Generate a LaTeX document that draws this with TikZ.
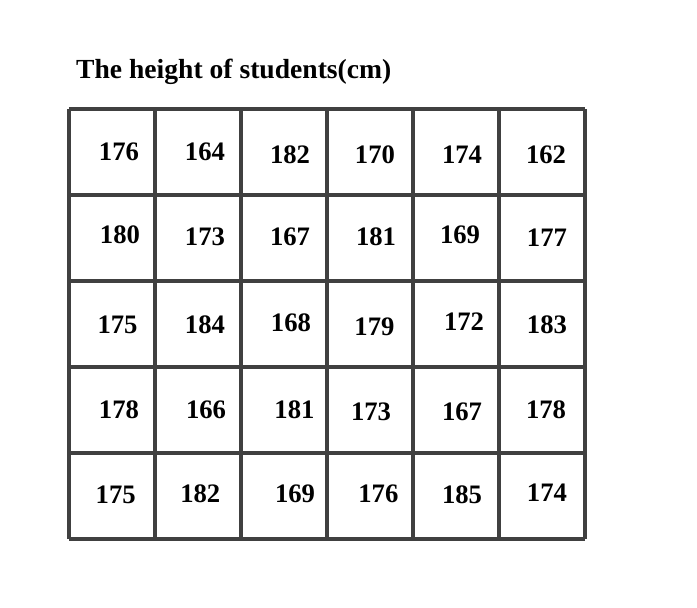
\documentclass[tikz,border=0pt]{standalone}
\usepackage{fontspec}
\setmainfont{Liberation Serif}
\begin{document}
\begin{tikzpicture}[x=64.5pt,y=64.5pt,
 num/.style={inner sep=0pt,font=\fontsize{20}{23}\selectfont\bfseries}]
 \useasboundingbox (-0.8023,-0.7907) rectangle (7.3023,6.2674);
 \draw [step=1,black!75,line width=2.3pt](0,0) grid (6,5);
 \node[anchor=base west,inner sep=0pt,font=\fontsize{20.7}{24}\selectfont\bfseries] (title) at (0.081,5.349) {The height of students(cm)};
 \node[num] (a1) at (0.581,4.500) {176};
 \node[num] (a2) at (1.581,4.500) {164};
 \node[num] (a3) at (2.570,4.465) {182};
 \node[num] (a4) at (3.558,4.465) {170};
 \node[num] (a5) at (4.570,4.465) {174};
 \node[num] (a6) at (5.547,4.465) {162};
 \node[num] (b1) at (0.593,3.535) {180};
 \node[num] (b2) at (1.581,3.512) {173};
 \node[num] (b3) at (2.570,3.512) {167};
 \node[num] (b4) at (3.570,3.512) {181};
 \node[num] (b5) at (4.547,3.535) {169};
 \node[num] (b6) at (5.558,3.500) {177};
 \node[num] (c1) at (0.564,2.488) {175};
 \node[num] (c2) at (1.581,2.488) {184};
 \node[num] (c3) at (2.581,2.512) {168};
 \node[num] (c4) at (3.552,2.471) {179};
 \node[num] (c5) at (4.593,2.523) {172};
 \node[num] (c6) at (5.558,2.488) {183};
 \node[num] (d1) at (0.581,1.500) {178};
 \node[num] (d2) at (1.593,1.500) {166};
 \node[num] (d3) at (2.622,1.500) {181};
 \node[num] (d4) at (3.512,1.477) {173};
 \node[num] (d5) at (4.570,1.477) {167};
 \node[num] (d6) at (5.547,1.500) {178};
 \node[num] (e1) at (0.543,0.512) {175};
 \node[num] (e2) at (1.527,0.531) {182};
 \node[num] (e3) at (2.628,0.531) {169};
 \node[num] (e4) at (3.597,0.531) {176};
 \node[num] (e5) at (4.570,0.512) {185};
 \node[num] (e6) at (5.558,0.535) {174};
\end{tikzpicture}
\end{document}
